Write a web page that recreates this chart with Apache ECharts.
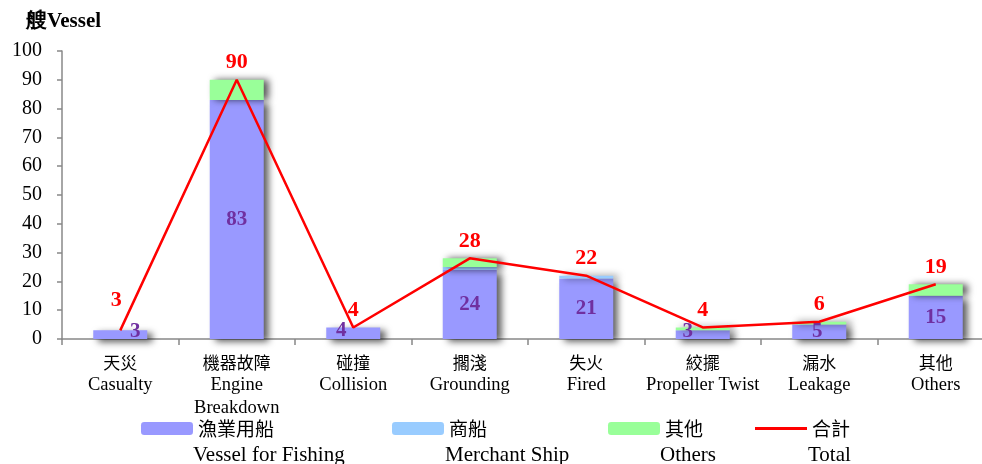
<!DOCTYPE html>
<html><head><meta charset="utf-8">
<script src="https://cdn.jsdelivr.net/npm/echarts@6/dist/echarts.min.js"></script>
<style>html,body{margin:0;padding:0;background:#fff;overflow:hidden;width:982px;height:464px}#c{width:994px;height:464px}</style>
</head><body><div id="c"></div>
<script>
const categoriesZh = ['天災','機器故障','碰撞','擱淺','失火','絞擺','漏水','其他'];
const categoriesEn = ['Casualty','Engine\nBreakdown','Collision','Grounding','Fired','Propeller Twist','Leakage','Others'];
const fishing = [3,83,4,24,21,3,5,15];
const merchant = [0,0,0,1,1,0,0,0];
const others = [0,7,0,3,0,1,1,4];
const total = [3,90,4,28,22,4,6,19];
const seriesNamesZh = ['漁業用船','商船','其他','合計'];
const seriesNamesEn = ['Vessel for Fishing','Merchant Ship','Others','Total'];
const yTicks = {min:0, max:100, interval:10};

const serif = 'Liberation Serif, Times New Roman, serif';
const cjk = 'Noto Sans CJK TC';
const colors = ['#9999FF','#99CCFF','#99FF99','#FF0000'];

// label style tweaks (style only, not data)
const fishLabelOffset = {0:[15,-3],2:[-12,-3],5:[-15,-3],6:[-2,0]};
const totalLabelOffset = {0:[-4,-13]};

const barShadow = {shadowColor:'rgba(0,0,0,0.65)', shadowBlur:7, shadowOffsetX:5, shadowOffsetY:2};

const chart = echarts.init(document.getElementById('c'));
const legendPos = [136,387,603,750];
const option = {
  animation:false,
  title:{text:'艘Vessel', left:21, top:6, textStyle:{fontFamily:serif, fontWeight:'bold', fontSize:21, color:'#000'}},
  grid:{left:62, top:51, right:0, height:288},
  legend: seriesNamesZh.map((n,i)=>({
    left:legendPos[i], top:414, data:[i===3?{name:n, icon:'rect'}:n],
    itemWidth:52, itemHeight:i===3?3:13, itemGap:0,
    textStyle:{fontFamily:cjk, fontSize:19, color:'#000', padding:[0,0,0,0]}
  })),
  graphic: seriesNamesEn.map((t,i)=>({
    type:'text', left:legendPos[i]+[57,58,57,58][i], top:445,
    style:{text:t, font:'21px ' + serif, fill:'#000'}
  })),
  xAxis:{
    type:'category', data:categoriesZh, boundaryGap:true,
    axisLine:{lineStyle:{color:'#888', width:1.5}},
    axisTick:{show:true, length:6, lineStyle:{color:'#888', width:1.5}, interval:0},
    axisLabel:{interval:0, margin:12, lineHeight:24,
      formatter:(v,idx)=>'{zh|'+v+'}\n'+categoriesEn[idx].split('\n').map(s=>'{en|'+s+'}').join('\n'),
      rich:{zh:{fontFamily:cjk, fontSize:17, color:'#000', lineHeight:23},
            en:{fontFamily:serif, fontSize:18.5, color:'#000', lineHeight:23}}}
  },
  yAxis:{
    type:'value', min:yTicks.min, max:yTicks.max, interval:yTicks.interval,
    splitLine:{show:false},
    axisLine:{show:true, lineStyle:{color:'#888', width:1.5}},
    axisTick:{show:true, length:5, lineStyle:{color:'#888', width:1.5}},
    axisLabel:{fontFamily:serif, fontSize:20, color:'#000', margin:20}
  },
  series:[
    {name:seriesNamesZh[0], type:'bar', stack:'s', barWidth:54,
     itemStyle:Object.assign({color:colors[0]}, barShadow, {shadowOffsetY:3}),
     data:fishing.map((v,i)=>({value:v, label:{offset:fishLabelOffset[i]||[0,0]}})),
     label:{show:true, position:'inside', fontFamily:serif, fontWeight:'bold', fontSize:21, color:'#7030A0'},
     z:2},
    {name:seriesNamesZh[1], type:'bar', stack:'s', barWidth:54,
     itemStyle:Object.assign({color:colors[1]}, barShadow, {shadowOffsetY:0}),
     data:merchant, z:2},
    {name:seriesNamesZh[2], type:'bar', stack:'s', barWidth:54,
     itemStyle:Object.assign({color:colors[2]}, barShadow, {shadowOffsetY:0}),
     data:others, z:2},
    {name:seriesNamesZh[3], type:'line', symbol:'circle', symbolSize:0.01, showSymbol:true,
     lineStyle:{color:colors[3], width:2.5}, itemStyle:{color:colors[3]},
     data:total.map((v,i)=>({value:v, label:{offset:totalLabelOffset[i]||[0,0]}})),
     label:{show:true, position:'top', distance:6, fontFamily:serif, fontWeight:'bold', fontSize:22, color:'#FF0000'},
     z:5}
  ]
};
chart.setOption(option);
</script></body></html>
